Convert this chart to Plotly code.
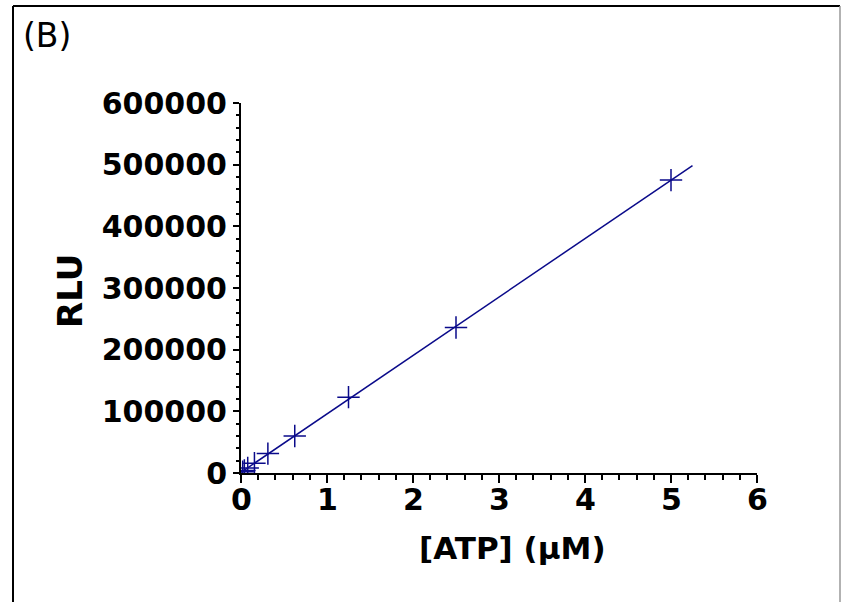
import numpy as np
import plotly.graph_objects as go

# Data
atp_um = [5.0, 2.5, 1.25, 0.625, 0.3125, 0.15625, 0.078125, 0.0390625, 0.01953125]
rlu = [475000, 236000, 123000, 60000, 31500, 16000, 8000, 4000, 2000]
fit_x_range = [0.0, 5.25]
x_ticks = [0, 1, 2, 3, 4, 5, 6]
y_ticks = [0, 100000, 200000, 300000, 400000, 500000, 600000]

slope, intercept = np.polyfit(atp_um, rlu, 1)
fit_y = [slope * v + intercept for v in fit_x_range]

COLOR = "#0a0a8a"
W, H = 841, 602
ML, MR, MT, MB = 241, 84, 103, 129
PW, PH = W - ML - MR, H - MT - MB

def px(xp):
    return (xp - ML) / PW

def py(yp):
    return (H - MB - yp) / PH

fig = go.Figure()
fig.add_trace(go.Scatter(x=fit_x_range, y=fit_y, mode="lines",
                         line=dict(color=COLOR, width=1.5), showlegend=False,
                         hoverinfo="skip"))
fig.add_trace(go.Scatter(x=atp_um, y=rlu, mode="markers",
                         marker=dict(symbol="cross-thin", size=16,
                                     line=dict(color=COLOR, width=1.5)),
                         showlegend=False))

tickfont = dict(family="DejaVu Sans", size=30, color="black", weight="bold")
fig.update_xaxes(range=[0, 6], tickvals=x_ticks, showticklabels=False,
                 showgrid=False, zeroline=False, showline=True, linecolor="black",
                 linewidth=2, ticks="outside", ticklen=8, tickwidth=2, tickcolor="black",
                 minor=dict(dtick=0.2, ticks="outside", ticklen=5, tickwidth=2, tickcolor="black"))
fig.update_yaxes(range=[0, 600000], tickvals=y_ticks, ticktext=[str(v) for v in y_ticks],
                 showgrid=False, zeroline=False, showline=True, linecolor="black",
                 linewidth=2, ticks="outside", ticklen=6, tickwidth=2, tickcolor="black",
                 minor=dict(dtick=20000, ticks="outside", ticklen=3, tickwidth=2, tickcolor="black"),
                 tickfont=tickfont, ticklabelstandoff=0)

# X tick labels placed on the x scale
for v in x_ticks:
    fig.add_annotation(text=str(v), xref="x", yref="paper", x=v, y=py(499),
                       xanchor="center", yanchor="middle", showarrow=False,
                       font=tickfont)

# Axis titles
fig.add_annotation(text="[ATP] (µM)", xref="paper", yref="paper", x=px(512), y=py(548),
                   xanchor="center", yanchor="middle", showarrow=False,
                   font=dict(family="DejaVu Sans", size=31, color="black", weight="bold"))
fig.add_annotation(text="RLU", xref="paper", yref="paper", x=px(70), y=py(291),
                   xanchor="center", yanchor="middle", showarrow=False, textangle=-90,
                   font=dict(family="DejaVu Sans", size=34, color="black", weight="bold"))

fig.add_annotation(text="(B)", xref="paper", yref="paper", x=px(21), y=py(35),
                   xanchor="left", yanchor="middle", showarrow=False,
                   font=dict(family="DejaVu Sans", size=33, color="black"))

fig.add_shape(type="line", xref="paper", yref="paper", x0=px(13), x1=px(13),
              y0=py(6), y1=py(610), line=dict(color="black", width=2))
fig.add_shape(type="line", xref="paper", yref="paper", x0=px(13), x1=px(840),
              y0=py(6), y1=py(6), line=dict(color="black", width=2))
fig.add_shape(type="line", xref="paper", yref="paper", x0=px(840), x1=px(840),
              y0=py(6), y1=py(610), line=dict(color="#999999", width=1.5))

fig.update_layout(width=W, height=H, margin=dict(l=ML, r=MR, t=MT, b=MB, autoexpand=False),
                  plot_bgcolor="white", paper_bgcolor="white")
fig.write_html("out.html")
